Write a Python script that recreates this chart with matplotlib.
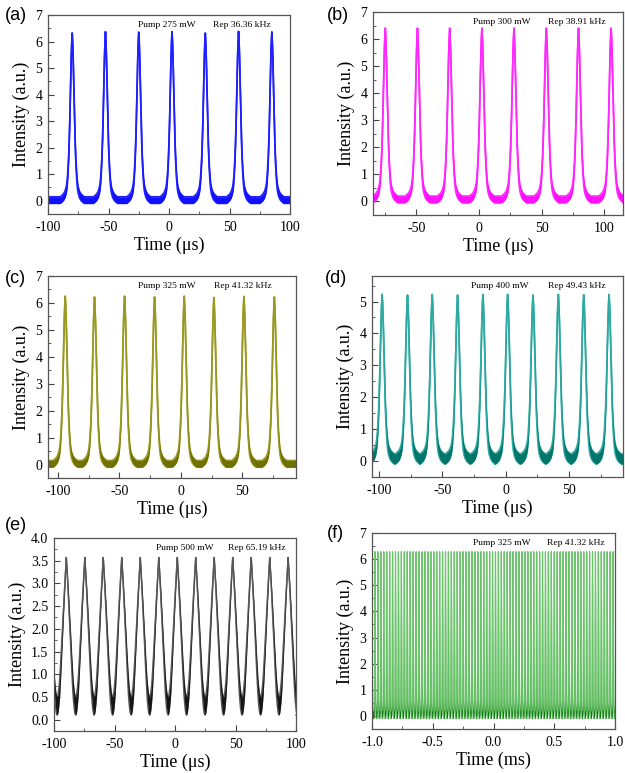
"""
Pulse trains at several pump powers, six panels.
"""
import numpy as np
import matplotlib
matplotlib.use('Agg')
import matplotlib.pyplot as plt
from matplotlib.ticker import MultipleLocator, FormatStrFormatter

plt.rcParams['font.family'] = ['Liberation Serif', 'DejaVu Serif']
plt.rcParams['axes.unicode_minus'] = False

# pulse shape: offset from centre (us) -> fraction of peak
shape_t = [0.0, 0.4, 0.8, 1.2, 1.6, 2.0, 2.5, 3.0, 3.5, 4.0, 4.5, 5.0, 6.0, 7.0, 8.5, 10.0]
shape_y = [1.0, 0.94, 0.85, 0.73, 0.60, 0.47, 0.34, 0.24, 0.17, 0.115, 0.08, 0.058, 0.034, 0.02, 0.008, 0.0]

# panel (e) pulses are much broader
shape_e_t = [0.0, 0.5, 1.0, 1.5, 2.0, 2.5, 3.0, 3.5, 4.0, 4.5, 5.0, 5.5, 6.0, 6.5, 7.0, 7.65]
shape_e_y = [1.0, 0.93, 0.86, 0.78, 0.70, 0.62, 0.53, 0.45, 0.36, 0.28, 0.20, 0.13, 0.08, 0.04, 0.013, 0.0]

# pulse centres (us) and peak heights (a.u.)
centers_a = [-80.0, -52.5, -25.0, 2.5, 30.0, 57.5, 85.0]
peaks_a = [6.32, 6.37, 6.35, 6.37, 6.32, 6.38, 6.36]
centers_b = [-100.4, -74.7, -49.0, -23.3, 2.4, 28.0, 53.8, 79.5, 105.5]
peaks_b = [6.40, 6.40, 6.40, 6.40, 6.40, 6.40, 6.40, 6.40, 6.40]
centers_c = [-94.0, -70.2, -45.8, -21.4, 2.7, 26.8, 51.2, 75.9]
peaks_c = [6.25, 6.22, 6.25, 6.22, 6.25, 6.20, 6.24, 6.22]
centers_d = [-97.5, -77.5, -58.0, -38.0, -18.0, 1.5, 21.5, 41.5, 61.5, 81.5]
peaks_d = [5.22, 5.20, 5.22, 5.20, 5.22, 5.22, 5.20, 5.22, 5.21, 5.22]
centers_e = [-105.1, -89.8, -74.5, -59.3, -44.0, -28.7, -13.4, 1.9, 17.1, 32.4,
             47.7, 63.0, 78.3, 93.5, 108.8]
peaks_e = [3.57] * len(centers_e)
# panel (f): 2 ms window, pulses too dense to read one by one -> rep rate from label
rep_f_khz = 41.32
first_f_ms = -0.976
centers_f = list(np.arange(first_f_ms, 1.0, 1.0 / rep_f_khz))
peaks_f = [6.28] * len(centers_f)

# noise band of the baseline (low, high)
band_a = (-0.10, 0.15)
band_b = (-0.05, 0.20)
band_c = (-0.10, 0.15)
band_d = (-0.10, 0.22)
band_e = (0.10, 0.50)
band_f = (-0.10, 0.20)

labels = ['(a)', '(b)', '(c)', '(d)', '(e)', '(f)']
pumps = ['Pump 275 mW', 'Pump 300 mW', 'Pump 325 mW', 'Pump 400 mW', 'Pump 500 mW', 'Pump 325 mW']
reps = ['Rep 36.36 kHz', 'Rep 38.91 kHz', 'Rep 41.32 kHz', 'Rep 49.43 kHz', 'Rep 65.19 kHz', 'Rep 41.32 kHz']


def trace(centers, peaks, band, st, sy, xlim, scale=1.0):
    st = np.asarray(st) * scale
    sy = np.asarray(sy)
    t_off = np.concatenate([-st[::-1], st[1:]])
    f_off = np.concatenate([sy[::-1], sy[1:]])
    xs, lo, hi = [xlim[0]], [band[0]], [band[1]]
    for c, p in zip(centers, peaks):
        xs.extend(c + t_off)
        lo.extend(band[0] + f_off * (p - band[0]))
        hi.extend(band[1] + f_off * (p - band[1]))
    xs.append(xlim[1]); lo.append(band[0]); hi.append(band[1])
    return np.array(xs), np.array(lo), np.array(hi)


W, H = 625, 773
fig = plt.figure(figsize=(W / 100, H / 100), dpi=100)

# axes boxes in pixels: left, top, right, bottom
boxes = [(48, 15, 290, 214), (373, 12, 623, 215),
         (48, 276, 296, 478), (372, 276, 623, 477),
         (54, 538, 296, 731), (372, 533, 615, 729)]
label_pos = [(5, 15), (327, 15), (5, 279), (325, 279), (5, 526), (327, 534)]

panels = [
    dict(c=centers_a, p=peaks_a, band=band_a, shape=(shape_t, shape_y), xlim=(-100, 100), ylim=(-0.5, 7),
         fill='#1010ff', line='#2020ff', xmaj=50, xmin=25, ymaj=1, ymin=0.5, xfmt='%d', yfmt='%d', tx=(0.37, 0.68)),
    dict(c=centers_b, p=peaks_b, band=band_b, shape=(shape_t, shape_y), xlim=(-84.5, 115), ylim=(-0.5, 7),
         fill='#ff10ff', line='#ff28ff', xmaj=50, xmin=25, ymaj=1, ymin=0.5, xfmt='%d', yfmt='%d', tx=(0.40, 0.70)),
    dict(c=centers_c, p=peaks_c, band=band_c, shape=(shape_t, shape_y), xlim=(-108, 93.5), ylim=(-0.5, 7),
         fill='#707000', line='#9a9a22', xmaj=50, xmin=25, ymaj=1, ymin=0.5, xfmt='%d', yfmt='%d', tx=(0.363, 0.67)),
    dict(c=centers_d, p=peaks_d, band=band_d, shape=(shape_t, shape_y), xlim=(-105.5, 92.5), ylim=(-0.5, 5.8),
         fill='#007569', line='#2eaba2', xmaj=50, xmin=25, ymaj=1, ymin=0.5, xfmt='%d', yfmt='%d', tx=(0.395, 0.70)),
    dict(c=centers_e, p=peaks_e, band=band_e, shape=(shape_e_t, shape_e_y), xlim=(-100, 100), ylim=(-0.25, 4.0),
         fill='#161616', line='#5a5a5a', xmaj=50, xmin=25, ymaj=0.5, ymin=0.25, xfmt='%d', yfmt='%.1f', tx=(0.42, 0.72),
         lw=1.0),
    dict(c=centers_f, p=peaks_f, band=band_f, shape=(shape_t, shape_y), xlim=(-1.0, 1.0), ylim=(-0.5, 7),
         fill='#0f7a0f', line='#6cc46c', xmaj=0.5, xmin=0.25, ymaj=1, ymin=0.5, xfmt='%.1f', yfmt='%d', tx=(0.415, 0.72),
         scale=1e-3, xlabel='Time (ms)', lw=0.8),
]

for i, pn in enumerate(panels):
    l, t, r, b = boxes[i]
    ax = fig.add_axes([l / W, 1 - b / H, (r - l) / W, (b - t) / H])
    xs, lo, hi = trace(pn['c'], pn['p'], pn['band'], pn['shape'][0], pn['shape'][1],
                       pn['xlim'], pn.get('scale', 1.0))
    lw = pn.get('lw', 1.2)
    ax.plot(xs, hi, color=pn['line'], lw=lw, zorder=2)
    ax.plot(xs, lo, color=pn['line'], lw=lw, zorder=2)
    ax.fill_between(xs, lo, hi, color=pn['fill'], lw=0, zorder=3)
    ax.set_xlim(*pn['xlim'])
    ax.set_ylim(*pn['ylim'])
    ax.xaxis.set_major_locator(MultipleLocator(pn['xmaj']))
    ax.xaxis.set_minor_locator(MultipleLocator(pn['xmin']))
    ax.yaxis.set_major_locator(MultipleLocator(pn['ymaj']))
    ax.yaxis.set_minor_locator(MultipleLocator(pn['ymin']))
    ax.xaxis.set_major_formatter(FormatStrFormatter(pn['xfmt']))
    ax.yaxis.set_major_formatter(FormatStrFormatter(pn['yfmt']))
    ax.tick_params(which='both', direction='in', top=False, right=False, labelsize=10, color='#444444')
    ax.tick_params(axis='x', pad=5)
    ax.tick_params(axis='y', pad=4)
    ax.tick_params(which='major', length=4, width=0.8)
    ax.tick_params(which='minor', length=2, width=0.6)
    for s in ax.spines.values():
        s.set_color('#555555')
        s.set_linewidth(0.9)
        s.set_zorder(4)
    ax.set_xlabel(pn.get('xlabel', 'Time (μs)'), fontsize=13, labelpad=2)
    ax.set_ylabel('Intensity (a.u.)', fontsize=13, labelpad=4)
    ax.text(pn['tx'][0], 0.95, pumps[i], transform=ax.transAxes, fontsize=6.8, va='center')
    ax.text(pn['tx'][1], 0.95, reps[i], transform=ax.transAxes, fontsize=6.8, va='center')
    lx, ly = label_pos[i]
    fig.text(lx / W, 1 - ly / H, labels[i], fontsize=13, family='Liberation Sans', va='center')

fig.savefig('out.png', dpi=100)
